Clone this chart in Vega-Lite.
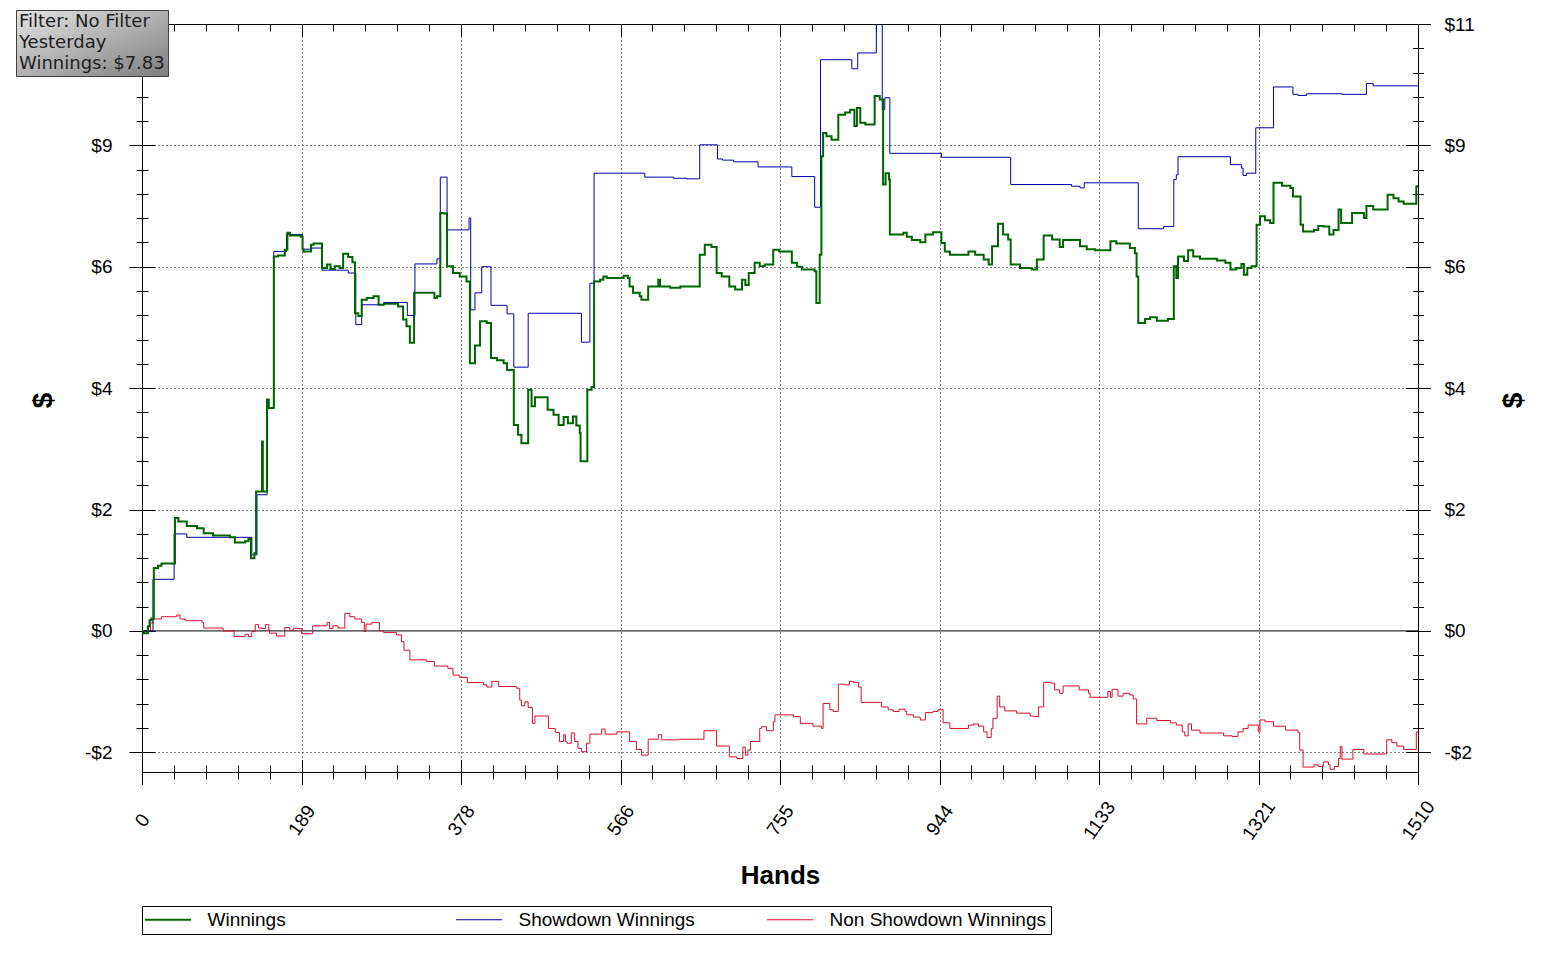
{
  "$schema": "https://vega.github.io/schema/vega-lite/v6.json",
  "width": 1276,
  "height": 748,
  "autosize": {"type": "none"},
  "padding": {"left": 142, "top": 24, "right": 142, "bottom": 187},
  "background": "white",
  "datasets": {
    "winnings": [
      {"hand":0,"dollars":0},{"hand":2,"dollars":-0.04},{"hand":7,"dollars":0.08},{"hand":9,"dollars":0.19},{"hand":11,"dollars":0.22},
      {"hand":14,"dollars":1.11},{"hand":19,"dollars":1.15},{"hand":23,"dollars":1.19},{"hand":39,"dollars":1.99},{"hand":43,"dollars":1.93},
      {"hand":53,"dollars":1.85},{"hand":65,"dollars":1.81},{"hand":73,"dollars":1.72},{"hand":84,"dollars":1.68},{"hand":104,"dollars":1.65},
      {"hand":110,"dollars":1.56},{"hand":122,"dollars":1.58},{"hand":126,"dollars":1.62},{"hand":129,"dollars":1.28},{"hand":133,"dollars":1.37},
      {"hand":135,"dollars":2.46},{"hand":142,"dollars":3.34},{"hand":143,"dollars":2.46},{"hand":148,"dollars":4.08},{"hand":150,"dollars":3.93},
      {"hand":156,"dollars":6.60},{"hand":161,"dollars":6.62},{"hand":169,"dollars":6.72},{"hand":172,"dollars":7.02},{"hand":175,"dollars":6.97},
      {"hand":188,"dollars":6.95},{"hand":190,"dollars":6.73},{"hand":191,"dollars":6.69},{"hand":200,"dollars":6.81},{"hand":203,"dollars":6.83},
      {"hand":213,"dollars":6.40},{"hand":219,"dollars":6.46},{"hand":223,"dollars":6.38},{"hand":228,"dollars":6.43},{"hand":234,"dollars":6.40},
      {"hand":238,"dollars":6.65},{"hand":244,"dollars":6.59},{"hand":249,"dollars":6.50},{"hand":252,"dollars":5.60},{"hand":256,"dollars":5.55},
      {"hand":260,"dollars":5.84},{"hand":266,"dollars":5.87},{"hand":274,"dollars":5.90},{"hand":280,"dollars":5.75},{"hand":286,"dollars":5.77},
      {"hand":303,"dollars":5.72},{"hand":309,"dollars":5.49},{"hand":313,"dollars":5.37},{"hand":317,"dollars":5.08},{"hand":322,"dollars":5.96},
      {"hand":346,"dollars":5.87},{"hand":349,"dollars":5.90},{"hand":353,"dollars":7.37},{"hand":357,"dollars":7.36},{"hand":361,"dollars":6.43},
      {"hand":368,"dollars":6.31},{"hand":376,"dollars":6.25},{"hand":384,"dollars":6.16},{"hand":388,"dollars":4.72},{"hand":394,"dollars":5.03},
      {"hand":400,"dollars":5.46},{"hand":408,"dollars":5.43},{"hand":413,"dollars":4.81},{"hand":420,"dollars":4.77},{"hand":428,"dollars":4.72},
      {"hand":432,"dollars":4.60},{"hand":440,"dollars":3.63},{"hand":445,"dollars":3.46},{"hand":449,"dollars":3.31},{"hand":457,"dollars":4.25},
      {"hand":461,"dollars":3.96},{"hand":465,"dollars":4.12},{"hand":480,"dollars":3.90},{"hand":487,"dollars":3.81},{"hand":493,"dollars":3.63},
      {"hand":499,"dollars":3.77},{"hand":504,"dollars":3.66},{"hand":510,"dollars":3.78},{"hand":514,"dollars":3.62},{"hand":518,"dollars":3.49},
      {"hand":519,"dollars":2.99},{"hand":527,"dollars":4.25},{"hand":532,"dollars":4.30},{"hand":535,"dollars":6.16},{"hand":542,"dollars":6.19},
      {"hand":546,"dollars":6.25},{"hand":550,"dollars":6.22},{"hand":570,"dollars":6.26},{"hand":575,"dollars":6.22},{"hand":577,"dollars":6.07},
      {"hand":581,"dollars":5.96},{"hand":589,"dollars":5.90},{"hand":591,"dollars":5.84},{"hand":599,"dollars":6.07},{"hand":611,"dollars":6.19},
      {"hand":613,"dollars":6.07},{"hand":625,"dollars":6.05},{"hand":637,"dollars":6.07},{"hand":660,"dollars":6.63},{"hand":666,"dollars":6.81},
      {"hand":674,"dollars":6.77},{"hand":680,"dollars":6.31},{"hand":686,"dollars":6.25},{"hand":695,"dollars":6.07},{"hand":702,"dollars":6.02},
      {"hand":710,"dollars":6.19},{"hand":714,"dollars":6.10},{"hand":718,"dollars":6.31},{"hand":725,"dollars":6.49},{"hand":731,"dollars":6.43},
      {"hand":737,"dollars":6.46},{"hand":747,"dollars":6.72},{"hand":754,"dollars":6.69},{"hand":769,"dollars":6.49},{"hand":775,"dollars":6.42},
      {"hand":781,"dollars":6.37},{"hand":796,"dollars":6.34},{"hand":798,"dollars":5.78},{"hand":802,"dollars":6.63},{"hand":804,"dollars":8.37},
      {"hand":806,"dollars":8.78},{"hand":810,"dollars":8.72},{"hand":816,"dollars":8.66},{"hand":824,"dollars":9.10},{"hand":832,"dollars":9.14},
      {"hand":838,"dollars":9.19},{"hand":843,"dollars":8.90},{"hand":846,"dollars":9.22},{"hand":850,"dollars":8.96},{"hand":856,"dollars":8.93},
      {"hand":867,"dollars":9.43},{"hand":873,"dollars":9.37},{"hand":877,"dollars":7.87},{"hand":880,"dollars":8.07},{"hand":884,"dollars":7.96},
      {"hand":885,"dollars":6.99},{"hand":901,"dollars":7.02},{"hand":905,"dollars":6.95},{"hand":911,"dollars":6.89},{"hand":921,"dollars":6.85},
      {"hand":927,"dollars":6.99},{"hand":936,"dollars":7.03},{"hand":946,"dollars":6.84},{"hand":950,"dollars":6.69},{"hand":956,"dollars":6.63},
      {"hand":978,"dollars":6.69},{"hand":986,"dollars":6.63},{"hand":996,"dollars":6.55},{"hand":1002,"dollars":6.46},{"hand":1006,"dollars":6.78},
      {"hand":1013,"dollars":7.18},{"hand":1019,"dollars":6.99},{"hand":1025,"dollars":6.90},{"hand":1028,"dollars":6.46},{"hand":1039,"dollars":6.40},
      {"hand":1053,"dollars":6.37},{"hand":1059,"dollars":6.55},{"hand":1067,"dollars":6.97},{"hand":1077,"dollars":6.90},{"hand":1086,"dollars":6.77},
      {"hand":1090,"dollars":6.89},{"hand":1110,"dollars":6.78},{"hand":1118,"dollars":6.73},{"hand":1128,"dollars":6.71},{"hand":1146,"dollars":6.87},
      {"hand":1153,"dollars":6.83},{"hand":1169,"dollars":6.75},{"hand":1175,"dollars":6.66},{"hand":1177,"dollars":6.25},{"hand":1179,"dollars":5.43},
      {"hand":1187,"dollars":5.50},{"hand":1193,"dollars":5.53},{"hand":1201,"dollars":5.47},{"hand":1214,"dollars":5.50},{"hand":1221,"dollars":6.43},
      {"hand":1224,"dollars":6.22},{"hand":1226,"dollars":6.60},{"hand":1233,"dollars":6.52},{"hand":1238,"dollars":6.71},{"hand":1244,"dollars":6.60},
      {"hand":1252,"dollars":6.56},{"hand":1272,"dollars":6.53},{"hand":1282,"dollars":6.49},{"hand":1288,"dollars":6.37},{"hand":1295,"dollars":6.40},
      {"hand":1301,"dollars":6.47},{"hand":1304,"dollars":6.28},{"hand":1308,"dollars":6.40},{"hand":1313,"dollars":6.43},{"hand":1319,"dollars":7.16},
      {"hand":1323,"dollars":7.31},{"hand":1329,"dollars":7.24},{"hand":1335,"dollars":7.19},{"hand":1339,"dollars":7.90},{"hand":1349,"dollars":7.85},
      {"hand":1359,"dollars":7.81},{"hand":1362,"dollars":7.66},{"hand":1371,"dollars":7.16},{"hand":1374,"dollars":7.04},{"hand":1387,"dollars":7.07},
      {"hand":1392,"dollars":7.14},{"hand":1398,"dollars":7.13},{"hand":1405,"dollars":6.99},{"hand":1410,"dollars":7.07},{"hand":1416,"dollars":7.43},
      {"hand":1419,"dollars":7.19},{"hand":1432,"dollars":7.37},{"hand":1446,"dollars":7.28},{"hand":1449,"dollars":7.49},{"hand":1457,"dollars":7.43},
      {"hand":1474,"dollars":7.69},{"hand":1481,"dollars":7.63},{"hand":1487,"dollars":7.57},{"hand":1493,"dollars":7.53},{"hand":1508,"dollars":7.84},
      {"hand":1510,"dollars":7.83}
    ],
    "showdown": [
      {"hand":0,"dollars":0},{"hand":13,"dollars":0.91},{"hand":38,"dollars":1.71},{"hand":53,"dollars":1.65},{"hand":130,"dollars":1.34},
      {"hand":136,"dollars":2.40},{"hand":148,"dollars":4.08},{"hand":150,"dollars":3.93},{"hand":156,"dollars":6.69},{"hand":171,"dollars":6.99},
      {"hand":190,"dollars":6.73},{"hand":201,"dollars":6.75},{"hand":213,"dollars":6.36},{"hand":244,"dollars":6.31},{"hand":253,"dollars":5.40},
      {"hand":260,"dollars":5.75},{"hand":286,"dollars":5.79},{"hand":314,"dollars":5.56},{"hand":323,"dollars":6.47},{"hand":349,"dollars":6.56},
      {"hand":353,"dollars":8.00},{"hand":361,"dollars":7.07},{"hand":387,"dollars":7.28},{"hand":389,"dollars":5.66},{"hand":394,"dollars":5.96},
      {"hand":402,"dollars":6.42},{"hand":413,"dollars":5.74},{"hand":432,"dollars":5.59},{"hand":440,"dollars":4.65},{"hand":457,"dollars":5.60},
      {"hand":520,"dollars":5.09},{"hand":530,"dollars":6.13},{"hand":535,"dollars":8.07},{"hand":595,"dollars":8.00},{"hand":629,"dollars":7.98},
      {"hand":645,"dollars":7.97},{"hand":660,"dollars":8.57},{"hand":681,"dollars":8.32},{"hand":687,"dollars":8.30},{"hand":700,"dollars":8.27},
      {"hand":729,"dollars":8.18},{"hand":769,"dollars":8.01},{"hand":796,"dollars":7.47},{"hand":803,"dollars":10.07},{"hand":840,"dollars":9.91},
      {"hand":847,"dollars":10.19},{"hand":869,"dollars":11.3},{"hand":876,"dollars":9.19},{"hand":879,"dollars":9.40},{"hand":885,"dollars":8.42},
      {"hand":946,"dollars":8.35},{"hand":1028,"dollars":7.87},{"hand":1100,"dollars":7.84},{"hand":1110,"dollars":7.81},{"hand":1115,"dollars":7.90},
      {"hand":1179,"dollars":7.09},{"hand":1209,"dollars":7.13},{"hand":1221,"dollars":7.96},{"hand":1224,"dollars":8.04},{"hand":1226,"dollars":8.36},
      {"hand":1288,"dollars":8.22},{"hand":1301,"dollars":8.16},{"hand":1303,"dollars":8.03},{"hand":1307,"dollars":8.07},{"hand":1318,"dollars":8.87},
      {"hand":1339,"dollars":9.59},{"hand":1362,"dollars":9.46},{"hand":1368,"dollars":9.44},{"hand":1378,"dollars":9.47},{"hand":1420,"dollars":9.46},
      {"hand":1449,"dollars":9.65},{"hand":1457,"dollars":9.61},{"hand":1510,"dollars":9.61}
    ],
    "nonshowdown": [
      {"hand":0,"dollars":0},{"hand":10,"dollars":0.14},{"hand":13,"dollars":0.21},{"hand":23,"dollars":0.25},{"hand":41,"dollars":0.28},
      {"hand":45,"dollars":0.21},{"hand":51,"dollars":0.18},{"hand":71,"dollars":0.15},{"hand":73,"dollars":0.05},{"hand":96,"dollars":0.00},
      {"hand":109,"dollars":-0.10},{"hand":122,"dollars":-0.06},{"hand":126,"dollars":-0.10},{"hand":130,"dollars":-0.01},{"hand":134,"dollars":0.11},
      {"hand":138,"dollars":0.05},{"hand":142,"dollars":0.04},{"hand":146,"dollars":0.11},{"hand":150,"dollars":0.02},{"hand":151,"dollars":-0.04},
      {"hand":159,"dollars":-0.09},{"hand":169,"dollars":0.06},{"hand":175,"dollars":0.01},{"hand":179,"dollars":0.04},{"hand":189,"dollars":-0.05},
      {"hand":202,"dollars":0.09},{"hand":219,"dollars":0.15},{"hand":222,"dollars":0.04},{"hand":226,"dollars":0.09},{"hand":232,"dollars":0.05},
      {"hand":240,"dollars":0.31},{"hand":246,"dollars":0.25},{"hand":252,"dollars":0.21},{"hand":260,"dollars":0.15},{"hand":263,"dollars":-0.01},
      {"hand":265,"dollars":0.12},{"hand":272,"dollars":0.15},{"hand":281,"dollars":0.00},{"hand":286,"dollars":-0.03},{"hand":301,"dollars":-0.07},
      {"hand":307,"dollars":-0.19},{"hand":310,"dollars":-0.34},{"hand":317,"dollars":-0.51},{"hand":337,"dollars":-0.54},{"hand":346,"dollars":-0.62},
      {"hand":362,"dollars":-0.66},{"hand":368,"dollars":-0.78},{"hand":376,"dollars":-0.82},{"hand":385,"dollars":-0.91},{"hand":404,"dollars":-0.95},
      {"hand":408,"dollars":-0.99},{"hand":414,"dollars":-0.89},{"hand":422,"dollars":-0.98},{"hand":443,"dollars":-1.01},{"hand":447,"dollars":-1.22},
      {"hand":449,"dollars":-1.32},{"hand":453,"dollars":-1.25},{"hand":457,"dollars":-1.35},{"hand":462,"dollars":-1.63},{"hand":465,"dollars":-1.50},
      {"hand":481,"dollars":-1.72},{"hand":489,"dollars":-1.79},{"hand":494,"dollars":-1.95},{"hand":499,"dollars":-1.83},{"hand":501,"dollars":-1.95},
      {"hand":503,"dollars":-1.98},{"hand":508,"dollars":-1.80},{"hand":512,"dollars":-1.95},{"hand":516,"dollars":-2.07},{"hand":520,"dollars":-2.13},
      {"hand":526,"dollars":-1.98},{"hand":530,"dollars":-1.82},{"hand":544,"dollars":-1.73},{"hand":548,"dollars":-1.82},{"hand":562,"dollars":-1.78},
      {"hand":577,"dollars":-1.95},{"hand":585,"dollars":-2.09},{"hand":591,"dollars":-2.19},{"hand":599,"dollars":-1.91},{"hand":611,"dollars":-1.83},
      {"hand":615,"dollars":-1.92},{"hand":635,"dollars":-1.91},{"hand":665,"dollars":-1.76},{"hand":680,"dollars":-2.03},{"hand":695,"dollars":-2.22},
      {"hand":704,"dollars":-2.25},{"hand":711,"dollars":-2.05},{"hand":714,"dollars":-2.19},{"hand":717,"dollars":-2.10},{"hand":720,"dollars":-1.95},
      {"hand":731,"dollars":-1.72},{"hand":733,"dollars":-1.69},{"hand":739,"dollars":-1.76},{"hand":747,"dollars":-1.60},{"hand":749,"dollars":-1.48},
      {"hand":771,"dollars":-1.51},{"hand":779,"dollars":-1.63},{"hand":794,"dollars":-1.68},{"hand":804,"dollars":-1.72},{"hand":806,"dollars":-1.28},
      {"hand":814,"dollars":-1.39},{"hand":818,"dollars":-1.42},{"hand":824,"dollars":-0.94},{"hand":832,"dollars":-0.95},{"hand":837,"dollars":-0.89},
      {"hand":842,"dollars":-0.91},{"hand":848,"dollars":-0.99},{"hand":851,"dollars":-1.26},{"hand":875,"dollars":-1.34},{"hand":883,"dollars":-1.39},
      {"hand":889,"dollars":-1.42},{"hand":896,"dollars":-1.38},{"hand":903,"dollars":-1.42},{"hand":905,"dollars":-1.48},{"hand":913,"dollars":-1.52},
      {"hand":921,"dollars":-1.57},{"hand":927,"dollars":-1.44},{"hand":936,"dollars":-1.42},{"hand":942,"dollars":-1.39},{"hand":948,"dollars":-1.62},
      {"hand":956,"dollars":-1.72},{"hand":978,"dollars":-1.66},{"hand":984,"dollars":-1.64},{"hand":990,"dollars":-1.68},{"hand":996,"dollars":-1.78},
      {"hand":1000,"dollars":-1.88},{"hand":1005,"dollars":-1.72},{"hand":1007,"dollars":-1.54},{"hand":1012,"dollars":-1.15},{"hand":1015,"dollars":-1.34},
      {"hand":1021,"dollars":-1.41},{"hand":1035,"dollars":-1.45},{"hand":1051,"dollars":-1.50},{"hand":1055,"dollars":-1.51},{"hand":1061,"dollars":-1.34},
      {"hand":1067,"dollars":-0.91},{"hand":1075,"dollars":-0.92},{"hand":1080,"dollars":-1.04},{"hand":1086,"dollars":-1.10},{"hand":1090,"dollars":-0.97},
      {"hand":1109,"dollars":-1.04},{"hand":1120,"dollars":-1.10},{"hand":1122,"dollars":-1.17},{"hand":1143,"dollars":-1.07},{"hand":1146,"dollars":-1.17},
      {"hand":1148,"dollars":-1.03},{"hand":1155,"dollars":-1.15},{"hand":1161,"dollars":-1.10},{"hand":1169,"dollars":-1.13},{"hand":1173,"dollars":-1.20},
      {"hand":1177,"dollars":-1.64},{"hand":1189,"dollars":-1.54},{"hand":1201,"dollars":-1.58},{"hand":1217,"dollars":-1.62},{"hand":1224,"dollars":-1.66},
      {"hand":1231,"dollars":-1.78},{"hand":1234,"dollars":-1.85},{"hand":1238,"dollars":-1.64},{"hand":1242,"dollars":-1.75},{"hand":1252,"dollars":-1.80},
      {"hand":1280,"dollars":-1.85},{"hand":1290,"dollars":-1.86},{"hand":1297,"dollars":-1.78},{"hand":1303,"dollars":-1.72},{"hand":1309,"dollars":-1.66},
      {"hand":1321,"dollars":-1.78},{"hand":1323,"dollars":-1.57},{"hand":1329,"dollars":-1.60},{"hand":1339,"dollars":-1.68},{"hand":1353,"dollars":-1.75},
      {"hand":1368,"dollars":-1.79},{"hand":1370,"dollars":-2.10},{"hand":1374,"dollars":-2.40},{"hand":1387,"dollars":-2.36},{"hand":1392,"dollars":-2.39},
      {"hand":1398,"dollars":-2.31},{"hand":1404,"dollars":-2.36},{"hand":1406,"dollars":-2.44},{"hand":1411,"dollars":-2.39},{"hand":1416,"dollars":-2.25},
      {"hand":1418,"dollars":-2.04},{"hand":1420,"dollars":-2.26},{"hand":1433,"dollars":-2.09},{"hand":1446,"dollars":-2.17},{"hand":1473,"dollars":-1.92},
      {"hand":1479,"dollars":-1.97},{"hand":1485,"dollars":-2.03},{"hand":1493,"dollars":-2.09},{"hand":1508,"dollars":-1.78},{"hand":1510,"dollars":-1.78}
    ],
    "info": [
      {"line": "Filter: No Filter"},
      {"line": "Yesterday"},
      {"line": "Winnings: $7.83"}
    ]
  },
  "layer": [
    {
      "data": {"values": [{}]},
      "mark": {"type": "rule", "color": "black", "strokeWidth": 1},
      "encoding": {
        "x": {
          "datum": 0, "type": "quantitative",
          "scale": {"domain": [0, 1510], "nice": false, "zero": false},
          "axis": {
            "orient": "bottom", "values": [188.75, 377.5, 566.25, 755, 943.75, 1132.5, 1321.25],
            "grid": true, "gridColor": "black", "gridDash": [1, 3], "gridWidth": 1,
            "ticks": false, "labels": false, "domain": false,
            "title": "Hands", "titleFontSize": 26, "titleX": 638, "titleY": 103,
            "titleAlign": "center", "titleBaseline": "middle", "titleAngle": 0
          }
        },
        "x2": {"datum": 1510},
        "y": {
          "datum": 0, "type": "quantitative",
          "scale": {"domain": [-2.4875, 10.7], "nice": false, "zero": false},
          "axis": {
            "orient": "left", "values": [-2.14, 2.14, 4.28, 6.42, 8.56],
            "grid": true, "gridColor": "black", "gridDash": [1, 3], "gridWidth": 1,
            "ticks": false, "labels": false, "domain": false,
            "title": "$", "titleFontSize": 28, "titleAngle": 270, "titleX": -99, "titleY": 376,
            "titleAlign": "center", "titleBaseline": "middle"
          }
        }
      }
    },
    {
      "data": {"name": "nonshowdown"},
      "mark": {"type": "line", "interpolate": "step-after", "strokeWidth": 1, "clip": true},
      "encoding": {
        "x": {
          "field": "hand", "type": "quantitative",
          "scale": {"domain": [0, 1510], "nice": false, "zero": false},
          "axis": {
            "orient": "bottom", "values": [0, 188.75, 377.5, 566.25, 755, 943.75, 1132.5, 1321.25, 1510],
            "offset": -12.5, "tickSize": 25, "labelExpr": "round(datum.value)",
            "labelAngle": -55, "labelAlign": "center", "labelBaseline": "middle", "labelPadding": 35.5,
            "title": null
          }
        },
        "y": {
          "field": "dollars", "type": "quantitative",
          "scale": {"domain": [-2.4875, 10.7], "nice": false, "zero": false},
          "axis": {
            "orient": "left", "values": [-2.14, 0, 2.14, 4.28, 6.42, 8.56, 10.7],
            "offset": -13, "tickSize": 26, "labelPadding": 17, "labelBaseline": "middle",
            "labelExpr": "datum.value > 10 ? '' : (datum.value < 0 ? '-$' : '$') + round(abs(datum.value))",
            "title": null
          }
        },
        "color": {
          "datum": "Non Showdown Winnings",
          "scale": {
            "domain": ["Winnings", "Showdown Winnings", "Non Showdown Winnings"],
            "range": ["#006400", "#0000a8", "#d8102c"]
          },
          "legend": {
            "orient": "none", "legendX": 0, "legendY": 882,
            "direction": "horizontal", "columns": 3, "gridAlign": "all", "columnPadding": 29,
            "title": null, "padding": 4, "strokeColor": "black", "fillColor": "white",
            "symbolType": "M-2.3,0H2.3", "symbolSize": 400, "symbolOffset": 12.5, "symbolStrokeWidth": 1,
            "labelOffset": 30, "labelFont": "Liberation Sans", "labelFontSize": 19,
            "labelColor": "black", "labelLimit": 400,
            "encode": {
              "symbols": {"update": {"strokeWidth": {"signal": "datum.value === 'Winnings' ? 2 : 1"}}}
            }
          }
        }
      }
    },
    {
      "data": {"name": "showdown"},
      "mark": {"type": "line", "interpolate": "step-after", "strokeWidth": 1, "clip": true},
      "encoding": {
        "x": {
          "field": "hand", "type": "quantitative",
          "scale": {"domain": [0, 1510], "nice": false, "zero": false},
          "axis": {
            "orient": "bottom",
            "values": [37.75, 75.5, 113.25, 151, 226.5, 264.25, 302, 339.75, 415.25, 453, 490.75, 528.5, 604, 641.75, 679.5, 717.25, 792.75, 830.5, 868.25, 906, 981.5, 1019.25, 1057, 1094.75, 1170.25, 1208, 1245.75, 1283.5, 1359, 1396.75, 1434.5, 1472.25],
            "offset": -7, "tickSize": 14, "labels": false, "title": null
          }
        },
        "y": {
          "field": "dollars", "type": "quantitative",
          "scale": {"domain": [-2.4875, 10.7], "nice": false, "zero": false},
          "axis": {
            "orient": "left",
            "values": [-1.712, -1.284, -0.856, -0.428, 0.428, 0.856, 1.284, 1.712, 2.568, 2.996, 3.424, 3.852, 4.708, 5.136, 5.564, 5.992, 6.848, 7.276, 7.704, 8.132, 8.988, 9.416, 9.844, 10.272],
            "offset": -6, "tickSize": 12, "labels": false, "title": null
          }
        },
        "color": {"datum": "Showdown Winnings"}
      }
    },
    {
      "data": {"name": "winnings"},
      "mark": {"type": "line", "interpolate": "step-after", "strokeWidth": 2, "clip": true},
      "encoding": {
        "x": {
          "field": "hand", "type": "quantitative",
          "scale": {"domain": [0, 1510], "nice": false, "zero": false},
          "axis": {
            "orient": "top", "values": [0, 188.75, 377.5, 566.25, 755, 943.75, 1132.5, 1321.25, 1510],
            "offset": -12, "tickSize": 12, "labels": false, "title": null
          }
        },
        "y": {
          "field": "dollars", "type": "quantitative",
          "scale": {"domain": [-2.4875, 10.7], "nice": false, "zero": false},
          "axis": {
            "orient": "right", "values": [-2.14, 0, 2.14, 4.28, 6.42, 8.56, 10.7],
            "offset": -12.5, "tickSize": 25, "labelPadding": 13.5, "labelBaseline": "middle",
            "labelExpr": "(datum.value < 0 ? '-$' : '$') + round(abs(datum.value))",
            "title": "$", "titleFontSize": 28, "titleAngle": 270, "titleX": 107.5, "titleY": 376,
            "titleAlign": "center", "titleBaseline": "middle"
          }
        },
        "color": {"datum": "Winnings"}
      }
    },
    {
      "data": {"values": []},
      "mark": {"type": "point", "opacity": 0},
      "encoding": {
        "x": {
          "field": "hand", "type": "quantitative",
          "scale": {"domain": [0, 1510], "nice": false, "zero": false},
          "axis": {
            "orient": "top",
            "values": [37.75, 75.5, 113.25, 151, 226.5, 264.25, 302, 339.75, 415.25, 453, 490.75, 528.5, 604, 641.75, 679.5, 717.25, 792.75, 830.5, 868.25, 906, 981.5, 1019.25, 1057, 1094.75, 1170.25, 1208, 1245.75, 1283.5, 1359, 1396.75, 1434.5, 1472.25],
            "offset": -7, "tickSize": 7, "labels": false, "title": null
          }
        },
        "y": {
          "field": "dollars", "type": "quantitative",
          "scale": {"domain": [-2.4875, 10.7], "nice": false, "zero": false},
          "axis": {
            "orient": "right",
            "values": [-1.712, -1.284, -0.856, -0.428, 0.428, 0.856, 1.284, 1.712, 2.568, 2.996, 3.424, 3.852, 4.708, 5.136, 5.564, 5.992, 6.848, 7.276, 7.704, 8.132, 8.988, 9.416, 9.844, 10.272],
            "offset": -5.5, "tickSize": 11, "labels": false, "title": null
          }
        }
      }
    },
    {
      "data": {"name": "info"},
      "mark": {"type": "point", "opacity": 0},
      "encoding": {
        "shape": {
          "field": "line", "type": "nominal",
          "scale": {"domain": ["Filter: No Filter", "Yesterday", "Winnings: $7.83"]},
          "legend": {
            "orient": "none", "legendX": -126, "legendY": -14, "direction": "vertical",
            "title": null, "padding": 3, "strokeColor": "#404040", "zindex": 2,
            "fillColor": {"value": {"gradient": "linear", "x1": 0, "y1": 0, "x2": 1, "y2": 1,
              "stops": [{"offset": 0, "color": "#e4e4e4"}, {"offset": 1, "color": "#7e7e7e"}]}},
            "symbolSize": 0, "symbolStrokeWidth": 0, "symbolOpacity": 0, "labelOffset": -18,
            "labelFont": "DejaVu Sans", "labelFontSize": 18, "labelColor": "#1e1e1e",
            "rowPadding": 3, "labelLimit": 400
          }
        }
      }
    }
  ],
  "resolve": {"axis": {"x": "independent", "y": "independent"}},
  "config": {
    "view": {"stroke": "black", "strokeWidth": 1},
    "axis": {
      "labelFont": "Liberation Sans", "labelFontSize": 19, "labelColor": "black",
      "titleFont": "Liberation Sans", "titleFontWeight": "bold", "titleColor": "black",
      "tickColor": "black", "tickWidth": 1, "domain": false, "grid": false,
      "labelFlush": false, "labelOverlap": false
    }
  }
}
